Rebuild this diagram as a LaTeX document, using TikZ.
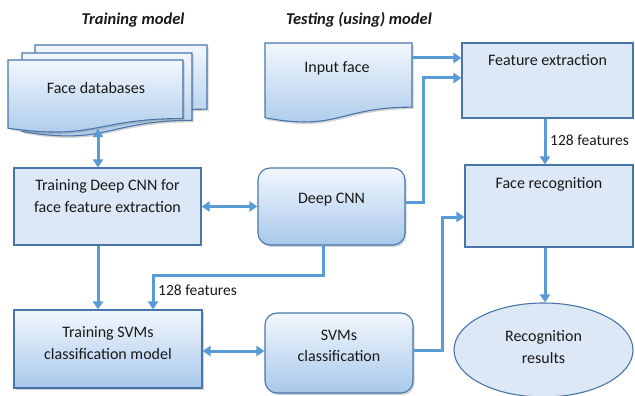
\documentclass[tikz,border=0pt]{standalone}
\usepackage{fontspec}
\setmainfont{Carlito}
\usetikzlibrary{arrows.meta,shadows,shapes.geometric}
\definecolor{lineblue}{RGB}{91,155,213}
\definecolor{edgeblue}{RGB}{72,118,170}
\definecolor{flatfill}{RGB}{220,232,246}
\definecolor{gradtop}{RGB}{242,247,253}
\definecolor{gradbot}{RGB}{168,200,234}
\newcommand\mydoc[4]{(#1,#3) -- (#2,#3) -- (#2,{#3+0.802*#4}) .. controls ({(#1+#2)/2},{#3+0.802*#4}) and ({(#1+#2)/2},{#3+1.107*#4}) .. (#1,{#3+0.934*#4}) -- cycle}
\tikzset{
  flatbox/.style={draw=edgeblue, line width=1.1pt, fill=flatfill, inner sep=0pt},
  gradbox/.style={draw=edgeblue, line width=1.1pt, top color=gradtop, bottom color=gradbot, inner sep=0pt,
    drop shadow={opacity=0.35, shadow xshift=1.5pt, shadow yshift=-2pt}},
  roundbox/.style={gradbox, rounded corners=12pt},
  lbl/.style={font=\fontsize{16}{21.5}\selectfont, align=center, text=black!90},
  ttl/.style={font=\fontsize{16.5}{18}\selectfont\bfseries\itshape, text=black!90},
  flow/.style={draw=lineblue, line width=3pt, -{Triangle[length=8pt,width=10pt]}},
  flow2/.style={draw=lineblue, line width=3pt, {Triangle[length=8pt,width=10pt]}-{Triangle[length=8pt,width=10pt]}},
  feat/.style={font=\fontsize{15.5}{17}\selectfont, text=black!90, anchor=west, inner sep=0pt}
}
\begin{document}
\begin{tikzpicture}[x=1pt,y=-1pt]
\useasboundingbox (0,0) rectangle (635,396);
% titles
\node[ttl] (t1) at (133,20) {Training model};
\node[ttl] (t2) at (359,20) {Testing (using) model};
% face databases (multi-document)
\path[gradbox] \mydoc{35}{207}{45}{80};
\path[gradbox] \mydoc{22}{192}{53}{84};
\path[gradbox] \mydoc{8}{183}{60}{73};
\node[lbl] (fdb) at (96,88) {Face databases};
\coordinate (fdbb) at (98,129);
% input face
\path[gradbox] \mydoc{265}{412}{43}{80};
\node[lbl] (inf) at (337,68) {Input face};
\coordinate (infr) at (412,58);
% boxes
\node[flatbox, minimum width=171pt, minimum height=75pt] (fe) at (547.5,80.5) {};
\node[lbl] (fet) at (547.5,60) {Feature extraction};
\node[flatbox, minimum width=168pt, minimum height=82pt] (fr) at (549,206) {};
\node[lbl] (frt) at (549,184) {Face recognition};
\node[flatbox, minimum width=187pt, minimum height=77pt] (tdc) at (107.5,206.5) {};
\node[lbl] (tdct) at (107.5,196) {Training Deep CNN for\\face feature extraction};
\node[roundbox, minimum width=147pt, minimum height=77pt] (dcnn) at (331.5,206.5) {};
\node[lbl] (dcnnt) at (331.5,200) {Deep CNN};
\node[gradbox, minimum width=188pt, minimum height=78pt] (tsvm) at (108,349) {};
\node[lbl] (tsvmt) at (108,343) {Training SVMs\\classification model};
\node[roundbox, minimum width=148pt, minimum height=80pt] (svm) at (339,353) {};
\node[lbl] (svmt) at (339,346) {SVMs\\classification};
\node[ellipse, draw=edgeblue, line width=1.1pt, fill=flatfill, minimum width=179pt, minimum height=94pt, inner sep=0pt] (res) at (543.5,350) {};
\node[lbl] (rest) at (543.5,347) {Recognition\\results};
% connectors
\coordinate (vx) at (545,0);
\draw[flow2] (fdbb) -- (fdbb |- tdc.north);
\draw[flow] (tdc.south -| fdbb) -- (tsvm.north -| fdbb);
\draw[flow2] (tdc.east) -- (dcnn.west);
\coordinate (c1) at (323,275);
\coordinate (c2) at (153,275);
\draw[flow] (dcnn.south -| c1) -- (c1) -- (c2) -- (c2 |- tsvm.north);
\node[feat] (f1) at (158,290) {128 features};
\coordinate (j0) at (405,202);
\coordinate (j1) at (423,78);
\draw[flow] (j0 -| dcnn.east) -| (j1) -- (j1 -| fe.west);
\draw[flow] (infr) -- (infr -| fe.west);
\draw[flow] (fe.south -| vx) -- (fr.north -| vx);
\node[feat] (f2) at (550,140) {128 features};
\draw[flow2] (tsvm.east |- 0,351) -- (svm.west |- 0,351);
\coordinate (j2) at (442,217);
\draw[flow] (svm.east |- 0,350) -| (j2) -- (j2 -| fr.west);
\draw[flow] (fr.south -| vx) -- (res.north -| vx);
\end{tikzpicture}
\end{document}
